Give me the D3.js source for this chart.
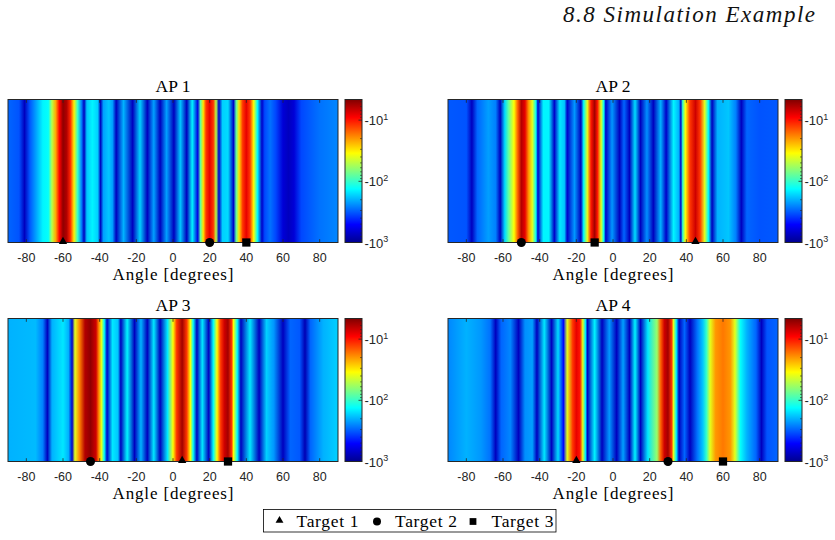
<!DOCTYPE html>
<html><head><meta charset="utf-8">
<script src="https://cdn.jsdelivr.net/npm/d3@7"></script>
<style>body{margin:0;background:#fff}svg{display:block}</style>
</head><body><script>
// ---------- data ----------
const angleTicks = [-80, -60, -40, -20, 0, 20, 40, 60, 80];
const colorTicks = [-10, -100, -1000];
const colorTickExp = ["1", "2", "3"];
const apNames = ["AP 1", "AP 2", "AP 3", "AP 4"];
const targetNames = ["Target 1", "Target 2", "Target 3"];

// spectrum profile per AP: angle (deg) and value
const ap1Angles = [-90,-84,-81,-78,-74,-71,-68,-66,-64,-62,-60,-58,-56,-54,-52,-50,-48.5,-47,-44,-41,-39.5,-38,-35,-33,-31,-27,-22,-18,-14,-10.5,-7,-3.5,0.5,4,7.5,10.5,13.5,15,16.5,18,20,22,23.5,25,27,30,33,34.5,36,38,40,42,44,46,48.5,50,53,56,60,63,66,70,80,90];
const ap1Values = [-300,-330,-750,-320,-200,-140,-130,-50,-22,-9,-5,-6,-11,-32,-100,-250,-750,-180,-140,-170,-750,-220,-180,-220,-750,-200,-750,-170,-750,-220,-750,-220,-750,-180,-750,-140,-600,-80,-30,-12,-8,-12,-50,-700,-170,-160,-700,-80,-30,-12,-8,-12,-35,-130,-700,-350,-280,-350,-650,-750,-650,-350,-280,-250];

const ap2Angles = [-90,-80,-77,-74,-68,-64,-61.5,-59,-57,-54,-52,-50,-48,-46,-44,-42,-41,-38,-35,-32,-29,-26.5,-25,-21,-17.5,-16,-14,-12,-10,-8.5,-6.5,-5,-4,-0.5,3.6,6,9,12,15,18.5,22,26,29,33,36,37,38,39.5,42,45,47.5,50,52,54,57,63,67,70,73,80,90];
const ap2Values = [-320,-330,-750,-300,-220,-260,-750,-160,-80,-35,-15,-6,-8,-20,-40,-130,-700,-140,-140,-700,-150,-180,-700,-230,-750,-130,-40,-10,-5.5,-10,-40,-130,-700,-230,-750,-300,-750,-160,-750,-240,-750,-200,-700,-140,-200,-700,-100,-35,-12,-7,-12,-40,-130,-750,-200,-180,-260,-750,-300,-330,-320];

const ap3Angles = [-90,-75,-71,-68.5,-66,-60,-57,-55,-53.5,-51,-48,-45,-42,-40.5,-39,-37.5,-36,-33,-30,-28.5,-25,-21,-17.5,-14,-10.5,-7,-3,0,2,5,7.5,9.5,11,13,16,19.5,22,24,26,28,30,32,33,35,37,42,47,51,55,60,64,69,72,75,82,90];
const ap3Values = [-200,-190,-260,-750,-200,-150,-200,-700,-40,-18,-6,-5,-7,-18,-40,-130,-700,-150,-180,-750,-140,-750,-200,-750,-150,-750,-150,-35,-12,-5.5,-12,-35,-130,-750,-150,-750,-130,-35,-12,-7,-5.5,-12,-35,-130,-750,-150,-750,-170,-230,-750,-300,-320,-800,-300,-200,-170];

const ap4Angles = [-90,-80,-72,-67,-64,-61,-56,-51.5,-48,-44,-41.5,-37.5,-33.5,-30,-27,-25,-22,-20,-18,-16.5,-15,-14,-10,-6,-2,2,5.5,9,12,15,19,24,26,28,30,32,33,34.5,36,39,42,46,49,51,53,56,60,64,66.5,69.5,73,78,81,84,90];
const ap4Values = [-250,-200,-230,-280,-750,-300,-250,-750,-240,-220,-750,-150,-750,-160,-500,-40,-12,-8,-10,-40,-150,-750,-140,-750,-230,-750,-220,-750,-140,-750,-150,-60,-15,-7,-5.5,-12,-40,-140,-750,-300,-750,-280,-180,-100,-40,-20,-17,-20,-40,-130,-200,-300,-750,-330,-300];

// target angles per AP, ordered as Target 1, Target 2, Target 3
const ap1Targets = [-60, 20, 40];
const ap2Targets = [45, -50, -10];
const ap3Targets = [5, -45, 30];
const ap4Targets = [-20, 30, 60];

const profiles = [
  {angles: ap1Angles, values: ap1Values, targets: ap1Targets},
  {angles: ap2Angles, values: ap2Values, targets: ap2Targets},
  {angles: ap3Angles, values: ap3Values, targets: ap3Targets},
  {angles: ap4Angles, values: ap4Values, targets: ap4Targets}
];

// ---------- styles / layout ----------
const W = 330, H = 143;
const panelPos = [[8, 99.5], [448, 99.5], [8, 318.5], [448, 318.5]];
const axisCol = "#262626";
const serif = "'Liberation Serif','Times New Roman',serif";
const sans = "'Liberation Sans',Arial,Helvetica,sans-serif";
const jetPos = [0, 0.125, 0.375, 0.625, 0.875, 1];
const jetColors = ["#00008f", "#0000ff", "#00ffff", "#ffff00", "#ff0000", "#800000"];
const jet = d3.scaleLinear().domain(jetPos).range(jetColors).interpolate(d3.interpolateRgb).clamp(true);
const cMin = -1000, cMax = -4.6;
const norm = d3.scaleLog().domain([cMin, cMax]).range([0, 1]).clamp(true);
const color = v => jet(norm(v));
const shapes = [d3.symbolTriangle, d3.symbolCircle, d3.symbolSquare];
const plotSizes = [30, 64, 68];
const legendSizes = [27, 50, 46];

const svg = d3.select("body").append("svg").attr("width", 835).attr("height", 540);
const defs = svg.append("defs");

// header
svg.append("text").attr("x", 815).attr("y", 22).attr("text-anchor", "end")
  .attr("font-family", serif).attr("font-style", "italic").attr("font-size", 23)
  .attr("textLength", 252).attr("lengthAdjust", "spacing").attr("fill", "#111")
  .text("8.8 Simulation Example");

const x = d3.scaleLinear().domain([-90, 90]).range([0, W]);
const cbY = d3.scaleLog().domain([cMin, cMax]).range([H, 0]);

// colorbar gradient
const cg = defs.append("linearGradient").attr("id", "cbgrad")
  .attr("gradientUnits", "userSpaceOnUse").attr("x1", 0).attr("x2", 0).attr("y1", H).attr("y2", 0);
jetPos.forEach((p, i) => cg.append("stop").attr("offset", p).attr("stop-color", jetColors[i]));

profiles.forEach((p, i) => {
  const [px, py] = panelPos[i];
  const g = svg.append("g").attr("transform", `translate(${px},${py})`);

  const grad = defs.append("linearGradient").attr("id", "hm" + i)
    .attr("gradientUnits", "userSpaceOnUse").attr("x1", x(-90)).attr("x2", x(90)).attr("y1", 0).attr("y2", 0);
  p.angles.forEach((a, k) => {
    grad.append("stop").attr("offset", (x(a) - x(-90)) / (x(90) - x(-90))).attr("stop-color", color(p.values[k]));
  });
  g.append("rect").attr("x", 0).attr("y", 0).attr("width", W).attr("height", H).attr("fill", `url(#hm${i})`);

  // ticks (inside, bottom and top)
  g.selectAll(".tk").data(angleTicks).enter().append("line")
    .attr("x1", d => x(d)).attr("x2", d => x(d)).attr("y1", H).attr("y2", H - 3.3)
    .attr("stroke", axisCol).attr("stroke-width", 0.8);
  g.selectAll(".tt").data(angleTicks).enter().append("line")
    .attr("x1", d => x(d)).attr("x2", d => x(d)).attr("y1", 0).attr("y2", 3.3)
    .attr("stroke", axisCol).attr("stroke-width", 0.8);
  g.selectAll(".tl").data(angleTicks).enter().append("text")
    .attr("x", d => x(d)).attr("y", H + 19.5).attr("text-anchor", "middle")
    .attr("font-family", sans).attr("font-size", 12.5).attr("fill", axisCol).text(d => d);

  g.append("rect").attr("x", 0).attr("y", 0).attr("width", W).attr("height", H)
    .attr("fill", "none").attr("stroke", axisCol).attr("stroke-width", 1);

  // title & xlabel
  g.append("text").attr("x", W / 2).attr("y", -7.5).attr("text-anchor", "middle")
    .attr("font-family", serif).attr("font-size", 17.5).attr("fill", "#000").text(apNames[i]);
  g.append("text").attr("x", W / 2).attr("y", H + 37.5).attr("text-anchor", "middle")
    .attr("font-family", serif).attr("font-size", 17).attr("fill", "#000")
    .attr("textLength", 121).attr("lengthAdjust", "spacing").text("Angle [degrees]");

  // target markers
  p.targets.forEach((a, k) => {
    g.append("path").attr("d", d3.symbol().type(shapes[k]).size(plotSizes[k])())
      .attr("transform", `translate(${x(a)},${H - (k === 0 ? 1 : 0)})`).attr("fill", "#000");
  });

  // colorbar
  const cb = g.append("g").attr("transform", `translate(${W + 7},0)`);
  cb.append("rect").attr("width", 17).attr("height", H).attr("fill", "url(#cbgrad)");
  const minors = [];
  [1, 10, 100].forEach(dec => [2,3,4,5,6,7,8,9].forEach(m => { const v = -m * dec; if (v <= cMax && v >= cMin) minors.push(v); }));
  cb.selectAll(".mn").data(minors).enter().append("line")
    .attr("x1", 17).attr("x2", 15).attr("y1", d => cbY(d)).attr("y2", d => cbY(d))
    .attr("stroke", axisCol).attr("stroke-width", 0.6);
  cb.selectAll(".mj").data(colorTicks).enter().append("line")
    .attr("x1", 17).attr("x2", 13.5).attr("y1", d => cbY(d)).attr("y2", d => cbY(d))
    .attr("stroke", axisCol).attr("stroke-width", 0.8);
  cb.append("rect").attr("width", 17).attr("height", H).attr("fill", "none")
    .attr("stroke", axisCol).attr("stroke-width", 1);
  const lab = cb.selectAll(".cl").data(colorTicks).enter().append("text")
    .attr("x", 19.5).attr("y", d => cbY(d) + 5)
    .attr("font-family", sans).attr("font-size", 13).attr("fill", axisCol);
  lab.append("tspan").text("-10");
  lab.append("tspan").attr("dy", -5.5).attr("font-size", 9).text((d, k) => colorTickExp[k]);
});

// legend
const lg = svg.append("g");
lg.append("rect").attr("x", 263.5).attr("y", 509.5).attr("width", 292.5).attr("height", 22.5)
  .attr("fill", "#fff").attr("stroke", "#000").attr("stroke-width", 0.8);
const legMarkX = [279.5, 377, 473];
const legTextX = [296.5, 395, 491.5];
targetNames.forEach((n, k) => {
  lg.append("path").attr("d", d3.symbol().type(shapes[k]).size(legendSizes[k])())
    .attr("transform", `translate(${legMarkX[k]},${k === 0 ? 520.5 : 521.5})`).attr("fill", "#000");
  lg.append("text").attr("x", legTextX[k]).attr("y", 526.5)
    .attr("font-family", serif).attr("font-size", 17.5).attr("fill", "#000")
    .attr("textLength", 62).attr("lengthAdjust", "spacing").text(n);
});
</script></body></html>
